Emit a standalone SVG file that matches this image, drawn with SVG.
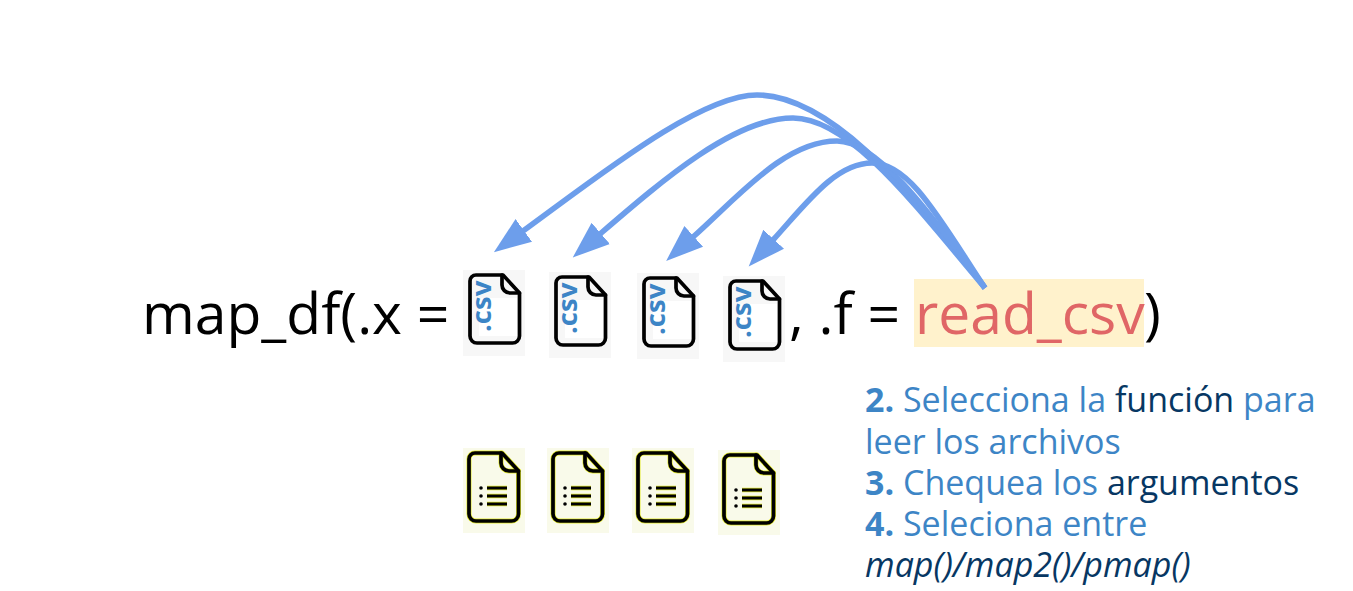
<svg xmlns="http://www.w3.org/2000/svg" width="1353" height="591" viewBox="0 0 1353 591">
  <style>
    text { font-family: "Open Sans", "Noto Sans", sans-serif; }
    .code { font-size: 57px; fill: #000; }
    .note { font-size: 34px; fill: #3d85c6; }
    .dark { fill: #073763; }
    .outline { fill: none; stroke: #000; stroke-width: 3.7; stroke-linejoin: round; stroke-linecap: round; }
    .halo { fill: none; stroke: #e4ea2a; stroke-width: 5; stroke-linejoin: round; stroke-linecap: round; }
    .csv { font-size: 27.5px; font-weight: 700; fill: #3d85c6; }
    .link { fill: none; stroke: #6d9eeb; stroke-width: 5.6; marker-end: url(#head); }
  </style>
  <defs>
    <marker id="head" markerUnits="userSpaceOnUse" markerWidth="40" markerHeight="34" refX="1" refY="17" orient="auto">
      <path d="M0 3 L37 17 L0 31 Z" fill="#6d9eeb"/>
    </marker>
    <!-- sheet outline with folded corner; stroke comes from the wrapping group -->
    <g id="page">
      <path d="M8 2 H35 L51.500 20 V63 A7 7 0 0 1 44.500 70 H9 A7 7 0 0 1 2 63 V8 A6 6 0 0 1 8 2 Z"/>
      <path d="M34 2 V12 A8 8 0 0 0 42 20 H51.500"/>
    </g>
    <g id="csvfile">
      <rect x="-5" y="-3" width="62" height="86" fill="#f7f7f7"/>
      <rect x="11" y="25" width="38" height="38" fill="#fff"/>
      <use class="outline" href="#page"/>
      <text class="csv" transform="translate(23 59) rotate(-90)">.csv</text>
    </g>
    <g id="listfile">
      <rect x="-4" y="-3" width="62" height="85" fill="#f9faea"/>
      <use class="halo" href="#page"/>
      <use class="outline" href="#page"/>
      <path d="M20 37 H40 M20 45 H40 M20 53 H40" stroke="#e4ea2a" stroke-width="4.600" fill="none"/>
      <path d="M20 37 H40 M20 45 H40 M20 53 H40" stroke="#000" stroke-width="3.200" fill="none"/>
      <path d="M14 37 h0.01 M14 45 h0.01 M14 53 h0.01" stroke="#000" stroke-width="3.600" stroke-linecap="round" fill="none"/>
    </g>
  </defs>

  <rect width="1353" height="591" fill="#fff"/>

  <g id="formula">
    <rect x="914" y="279" width="230" height="68" fill="#fff2cc"/>
    <text class="code" x="142" y="334">map_df(.x =</text>
    <text class="code" x="789" y="334">, .f =</text>
    <text class="code" x="915" y="334" style="fill:#e06666">read_csv</text>
    <text class="code" x="1144" y="334">)</text>
  </g>

  <g id="csv-1"><use href="#csvfile" x="468" y="273"/></g>
  <g id="csv-2"><use href="#csvfile" x="554" y="275"/></g>
  <g id="csv-3"><use href="#csvfile" x="642" y="276"/></g>
  <g id="csv-4"><use href="#csvfile" x="728" y="279"/></g>

  <g id="list-1"><use href="#listfile" x="467" y="451"/></g>
  <g id="list-2"><use href="#listfile" x="551" y="451"/></g>
  <g id="list-3"><use href="#listfile" x="636" y="451"/></g>
  <g id="list-4"><use href="#listfile" x="722" y="453"/></g>

  <g id="connectors">
    <path class="link" d="M985 288 C905 180 825 95 757 95 C700 95 600 175 523 231"/>
    <path class="link" d="M985 288 C915 205 850 118 793 118 C735 118 665 178 600 234"/>
    <path class="link" d="M985 288 C925 205 875 141 837 141 C785 141 740 195 693 237"/>
    <path class="link" d="M985 288 C940 220 910 163 872 163 C835 163 805 205 773 240"/>
  </g>

  <g id="notes">
    <text class="note" x="865" y="412"><tspan font-weight="700">2.</tspan> Selecciona la <tspan class="dark">función</tspan> para</text>
    <text class="note" x="865" y="454">leer los archivos</text>
    <text class="note" x="865" y="495"><tspan font-weight="700">3.</tspan> Chequea los <tspan class="dark">argumentos</tspan></text>
    <text class="note" x="865" y="536"><tspan font-weight="700">4.</tspan> Seleciona entre</text>
    <text class="note dark" x="865" y="577" font-style="italic">map()/map2()/pmap()</text>
  </g>
</svg>
